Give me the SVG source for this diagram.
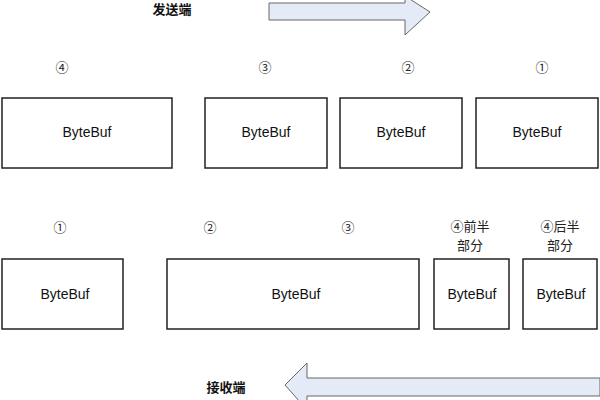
<svg xmlns="http://www.w3.org/2000/svg" width="600" height="400" viewBox="0 0 600 400">
<style>
.b{fill:#fff;stroke:#222;stroke-width:1.5}
.t{font-family:"Liberation Sans","Noto Sans CJK SC",sans-serif;font-size:14px;fill:#111;text-anchor:middle}
.h{font-family:"Noto Sans CJK SC",sans-serif;font-size:13px;font-weight:bold;fill:#111;text-anchor:middle}
.n{font-family:"Noto Sans CJK SC",sans-serif;font-size:13px;fill:#222;text-anchor:middle}
.a{fill:#e4ebf7;stroke:#666;stroke-width:1}
</style>
<g id="sender"><text class="h" x="172" y="14">发送端</text></g>
<g id="receiver"><text class="h" x="226" y="392">接收端</text></g>
<g id="connectors">
<polygon class="a" points="269,3 405,3 405,-4 430,12 405,35 405,20 269,20"/>
<polygon class="a" points="600,378 307,378 307,363 285,385 307,410 307,396 600,396"/>
</g>
<g id="r1b1"><rect class="b" x="2" y="98" width="170" height="70"/><text class="t" x="87" y="137">ByteBuf</text><text class="n" x="62" y="72">④</text></g>
<g id="r1b2"><rect class="b" x="205" y="98" width="122" height="70"/><text class="t" x="266" y="137">ByteBuf</text><text class="n" x="265" y="72">③</text></g>
<g id="r1b3"><rect class="b" x="340" y="98" width="122" height="70"/><text class="t" x="401" y="137">ByteBuf</text><text class="n" x="408" y="72">②</text></g>
<g id="r1b4"><rect class="b" x="476" y="98" width="122" height="70"/><text class="t" x="537" y="137">ByteBuf</text><text class="n" x="542" y="72">①</text></g>
<g id="r2b1"><rect class="b" x="2" y="259" width="121" height="70"/><text class="t" x="65" y="299">ByteBuf</text><text class="n" x="60" y="232">①</text></g>
<g id="r2b2"><rect class="b" x="167" y="259" width="252" height="70"/><text class="t" x="296" y="299">ByteBuf</text><text class="n" x="210" y="232">②</text><text class="n" x="348" y="232">③</text></g>
<g id="r2b3"><rect class="b" x="434" y="259" width="75" height="70"/><text class="t" x="472" y="299">ByteBuf</text><text class="n" x="470" y="231">④前半</text><text class="n" x="470" y="250">部分</text></g>
<g id="r2b4"><rect class="b" x="523" y="259" width="74" height="70"/><text class="t" x="561" y="299">ByteBuf</text><text class="n" x="560" y="231">④后半</text><text class="n" x="560" y="250">部分</text></g>
</svg>
